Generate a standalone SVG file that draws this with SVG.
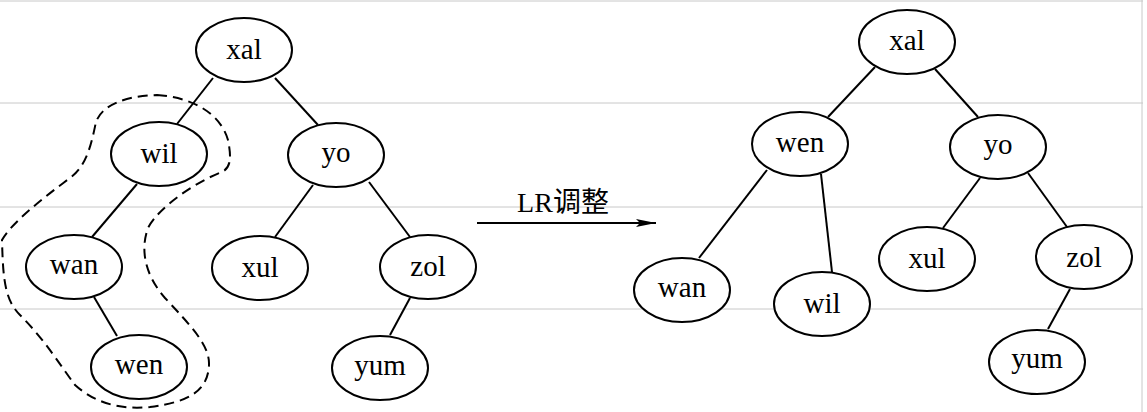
<svg xmlns="http://www.w3.org/2000/svg" width="1147" height="412" viewBox="0 0 1147 412">
<style>
.grid{stroke:#c8c8c8;stroke-width:1;fill:none}
.node ellipse{fill:#fff;stroke:#000;stroke-width:2}
.node text{font-size:29px;fill:#000;text-anchor:middle}
.lbl{font-size:28px;fill:#000;text-anchor:middle}
.edge line{stroke:#000;stroke-width:2}
.hull{fill:none;stroke:#000;stroke-width:2;stroke-dasharray:10 6}
</style>
<defs>
<marker id="ah" viewBox="0 0 20 8" refX="20" refY="4" markerWidth="20" markerHeight="8" markerUnits="userSpaceOnUse" orient="auto">
<path d="M0,0 L20,4 L0,8 L4,4 Z" fill="#000"/>
</marker>
</defs>
<rect width="1147" height="412" fill="#fff"/>
<g id="grid">
<line class="grid" x1="0" y1="1" x2="1143" y2="1"/>
<line class="grid" x1="0" y1="103" x2="1143" y2="103"/>
<line class="grid" x1="0" y1="207" x2="1143" y2="207"/>
<line class="grid" x1="0" y1="309" x2="1143" y2="309"/>
<line class="grid" x1="1142" y1="0" x2="1142" y2="412"/>
</g>
<g id="connectors" class="edge">
<line x1="213" y1="78" x2="177" y2="124"/>
<line x1="275" y1="78" x2="318" y2="125"/>
<line x1="137" y1="184" x2="92" y2="237"/>
<line x1="94" y1="297" x2="117" y2="336"/>
<line x1="313" y1="185" x2="275" y2="237"/>
<line x1="369" y1="182" x2="410" y2="237"/>
<line x1="410" y1="298" x2="390" y2="335"/>
<line x1="875" y1="67" x2="828" y2="117"/>
<line x1="935" y1="69" x2="978" y2="117"/>
<line x1="767" y1="170" x2="699" y2="258"/>
<line x1="821" y1="174" x2="832" y2="272"/>
<line x1="980" y1="178" x2="943" y2="228"/>
<line x1="1028" y1="173" x2="1067" y2="227"/>
<line x1="1070" y1="289" x2="1048" y2="329"/>
<line x1="477" y1="223" x2="656" y2="223" marker-end="url(#ah)"/>
</g>
<path id="hull" class="hull" d="M157 95 C190 97 220 112 228 140 C232 160 230 168 222 172 C200 180 160 205 148 228 C140 250 145 275 165 298 C190 325 210 345 209 365 C208 390 190 402 150 407 C120 410 95 403 75 385 C60 365 45 340 20 315 C5 300 3 280 2 240 C10 225 40 200 70 178 C88 165 92 140 96 122 C102 105 125 96 157 95 Z"/>
<text id="label" class="lbl" x="563" y="212" font-family="Liberation Serif, Noto Sans CJK SC, serif">LR调整</text>
<g font-family="Liberation Serif, serif">
<g id="L-xal" class="node"><ellipse cx="244" cy="50" rx="48" ry="32"/><text x="244" y="59">xal</text></g>
<g id="L-wil" class="node"><ellipse cx="159" cy="154" rx="48" ry="32"/><text x="159" y="163">wil</text></g>
<g id="L-yo" class="node"><ellipse cx="336" cy="155" rx="48" ry="32"/><text x="336" y="162">yo</text></g>
<g id="L-wan" class="node"><ellipse cx="74" cy="267" rx="48" ry="32"/><text x="74" y="274">wan</text></g>
<g id="L-xul" class="node"><ellipse cx="260" cy="268" rx="48" ry="32"/><text x="260" y="277">xul</text></g>
<g id="L-zol" class="node"><ellipse cx="428" cy="267" rx="48" ry="32"/><text x="428" y="276">zol</text></g>
<g id="L-wen" class="node"><ellipse cx="139" cy="367" rx="48" ry="32"/><text x="139" y="374">wen</text></g>
<g id="L-yum" class="node"><ellipse cx="380" cy="368" rx="48" ry="32"/><text x="380" y="375">yum</text></g>
<g id="R-xal" class="node"><ellipse cx="907" cy="42" rx="48" ry="32"/><text x="907" y="50">xal</text></g>
<g id="R-wen" class="node"><ellipse cx="800" cy="144" rx="48" ry="32"/><text x="800" y="152">wen</text></g>
<g id="R-yo" class="node"><ellipse cx="998" cy="147" rx="48" ry="32"/><text x="998" y="154">yo</text></g>
<g id="R-wan" class="node"><ellipse cx="682" cy="290" rx="48" ry="32"/><text x="682" y="297">wan</text></g>
<g id="R-wil" class="node"><ellipse cx="822" cy="304" rx="48" ry="32"/><text x="822" y="313">wil</text></g>
<g id="R-xul" class="node"><ellipse cx="927" cy="259" rx="48" ry="32"/><text x="927" y="268">xul</text></g>
<g id="R-zol" class="node"><ellipse cx="1084" cy="257" rx="48" ry="32"/><text x="1084" y="267">zol</text></g>
<g id="R-yum" class="node"><ellipse cx="1037" cy="362" rx="48" ry="32"/><text x="1037" y="368">yum</text></g>
</g>
</svg>
